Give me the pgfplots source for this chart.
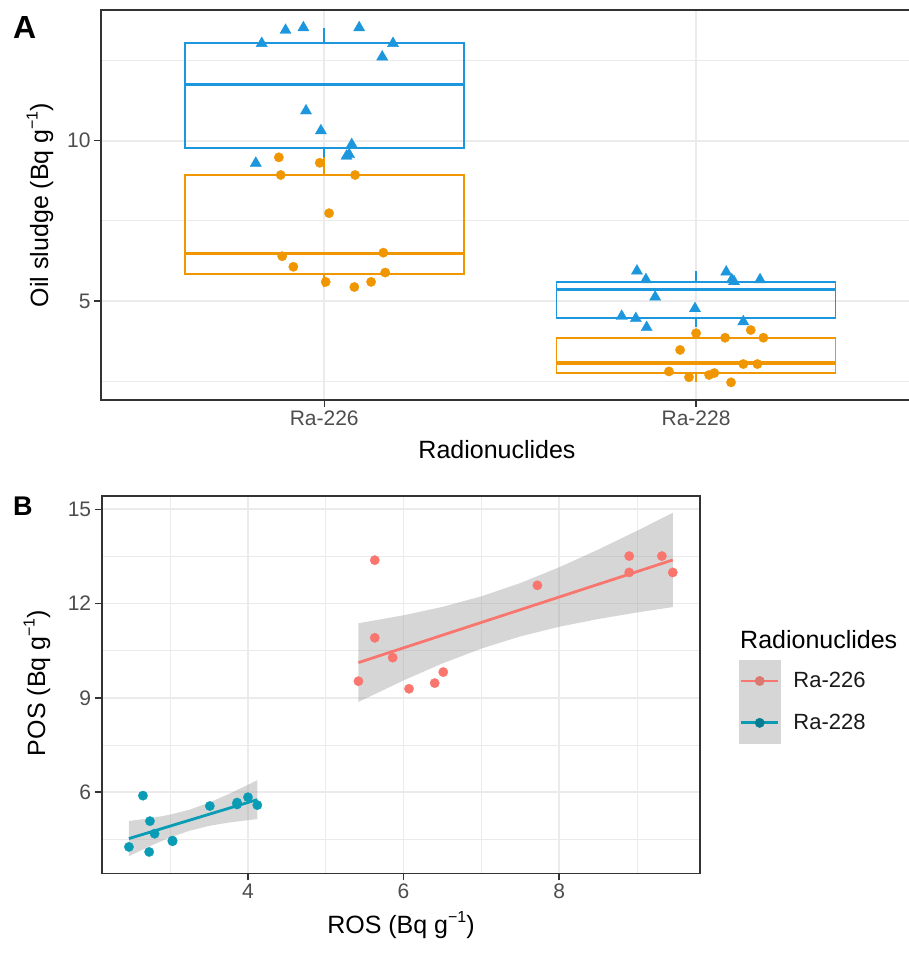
\documentclass[border=0pt]{standalone}
\usepackage{fontspec}
\setmainfont{Liberation Sans}
\usepackage{pgfplots}
\pgfplotsset{compat=1.18}
\definecolor{cblue}{HTML}{1C96DC}
\definecolor{corange}{HTML}{F09600}
\definecolor{cred}{HTML}{F8766D}
\definecolor{cteal}{HTML}{0A9BB5}
\definecolor{gridc}{HTML}{EBEBEB}
\definecolor{tickc}{HTML}{4D4D4D}
\definecolor{framec}{HTML}{333333}
\definecolor{bandc}{HTML}{999999}
\definecolor{keyc}{HTML}{D6D6D6}
\newcommand{\inv}{\raisebox{0.42em}{\fontsize{16}{16}\selectfont −1}}
\pgfplotsset{
 ggbase/.style={
  scale only axis,
  axis line style={draw=framec, line width=1.6pt},
  tick align=outside, tick pos=left,
  major tick length=7pt, minor tick length=0pt,
  tick style={draw=framec, line width=1.4pt},
  grid=both,
  major grid style={draw=gridc, line width=1.8pt},
  minor grid style={draw=gridc, line width=0.9pt},
  ticklabel style={font=\fontsize{21}{21}\selectfont, text=tickc},
  /pgf/number format/assume math mode=true,
 },
 boxln/.style={draw=#1, line width=1.7pt, forget plot},
 medln/.style={draw=#1, line width=3.2pt, forget plot},
}
\begin{document}
\begin{tikzpicture}
\path[use as bounding box] (0pt,0pt) rectangle (909pt,-954pt);
% ---------------- Panel A ----------------
\begin{axis}[ggbase, at={(101.1pt,-400pt)}, anchor=south west,
  width=818.1pt, height=390pt,
  xmin=0.4, xmax=2.6, ymin=1.92, ymax=14.07,
  xtick={1,2}, xticklabels={Ra-226,Ra-228},
  ytick={5,10}, minor ytick={2.5,7.5,12.5},
]
% Ra-226 POS box (blue)
\addplot[boxln=cblue] coordinates {(0.625,9.77) (1.375,9.77) (1.375,13.05) (0.625,13.05)} -- cycle;
\addplot[medln=cblue] coordinates {(0.625,11.76) (1.375,11.76)};
\addplot[boxln=cblue] coordinates {(1,13.05) (1,13.52)};
\addplot[boxln=cblue] coordinates {(1,9.77) (1,9.30)};
% Ra-226 ROS box (orange)
\addplot[boxln=corange] coordinates {(0.625,5.84) (1.375,5.84) (1.375,8.93) (0.625,8.93)} -- cycle;
\addplot[medln=corange] coordinates {(0.625,6.48) (1.375,6.48)};
\addplot[boxln=corange] coordinates {(1,8.93) (1,9.48)};
\addplot[boxln=corange] coordinates {(1,5.84) (1,5.44)};
% Ra-228 POS box (blue)
\addplot[boxln=cblue] coordinates {(1.625,4.48) (2.375,4.48) (2.375,5.60) (1.625,5.60)} -- cycle;
\addplot[medln=cblue] coordinates {(1.625,5.36) (2.375,5.36)};
\addplot[boxln=cblue] coordinates {(2,5.60) (2,5.94)};
\addplot[boxln=cblue] coordinates {(2,4.48) (2,4.18)};
% Ra-228 ROS box (orange)
\addplot[boxln=corange] coordinates {(1.625,2.76) (2.375,2.76) (2.375,3.86) (1.625,3.86)} -- cycle;
\addplot[medln=corange] coordinates {(1.625,3.07) (2.375,3.07)};
\addplot[boxln=corange] coordinates {(2,3.86) (2,4.10)};
\addplot[boxln=corange] coordinates {(2,2.76) (2,2.47)};
% Ra-226 POS (blue triangles)
\addplot[only marks, mark=triangle*, mark size=6.5pt, color=cblue, line width=0.3pt, forget plot] coordinates {
(0.832,13.03) (0.896,13.44) (0.944,13.52) (1.094,13.52) (1.185,13.03) (1.156,12.61)
(0.951,10.93) (0.991,10.31) (1.074,9.88) (1.067,9.57) (1.060,9.52) (0.816,9.30)};
% Ra-226 ROS (orange circles)
\addplot[only marks, mark=*, mark size=4.7pt, color=corange, line width=0.3pt, forget plot] coordinates {
(0.878,9.48) (0.988,9.31) (0.883,8.93) (1.083,8.93) (1.013,7.74) (1.159,6.51)
(0.887,6.40) (0.917,6.07) (1.164,5.89) (1.004,5.60) (1.126,5.60) (1.081,5.44)};
% Ra-228 POS
\addplot[only marks, mark=triangle*, mark size=6.5pt, color=cblue, line width=0.3pt, forget plot] coordinates {
(1.841,5.94) (1.865,5.67) (2.081,5.91) (2.096,5.67) (2.102,5.61) (2.172,5.67)
(1.890,5.13) (1.997,4.77) (1.800,4.53) (1.838,4.46) (1.867,4.18) (2.127,4.36)};
% Ra-228 ROS
\addplot[only marks, mark=*, mark size=4.7pt, color=corange, line width=0.3pt, forget plot] coordinates {
(2.000,4.00) (2.078,3.86) (2.147,4.10) (2.181,3.86) (1.957,3.48) (2.127,3.04)
(2.165,3.04) (1.927,2.81) (1.981,2.63) (2.035,2.70) (2.049,2.76) (2.094,2.47)};
\end{axis}
% ---------------- Panel B ----------------
\begin{axis}[ggbase, at={(101.7pt,-873.3pt)}, anchor=south west,
  width=598.3pt, height=377.6pt,
  xmin=2.12, xmax=9.81, ymin=3.42, ymax=15.43,
  xtick={4,6,8}, minor xtick={3,5,7,9},
  ytick={6,9,12,15}, minor ytick={4.5,7.5,10.5,13.5},
  legend style={draw=none, fill=none, inner sep=0pt, outer sep=0pt,
    column sep=13pt, row sep=0pt,
    nodes={inner sep=0pt, font=\fontsize{22}{22}\selectfont, text=black!90},
    cells={anchor=west},
    at={(axis description cs:1.0652,0.5649)}, anchor=north west},
  legend columns=1,
]
\addplot[only marks, mark=*, mark size=4.7pt, color=cred, line width=0.3pt, forget plot] coordinates {
(5.63,13.38) (5.63,10.91) (5.86,10.28) (5.42,9.53) (6.07,9.29) (6.40,9.47)
(6.51,9.82) (7.72,12.58) (8.90,13.51) (8.90,12.99) (9.32,13.51) (9.46,12.99)};
\addplot[only marks, mark=*, mark size=4.7pt, color=cteal, line width=0.3pt, forget plot] coordinates {
(2.65,5.89) (2.74,5.08) (2.80,4.68) (2.47,4.26) (2.73,4.10) (3.03,4.44)
(3.03,4.46) (3.51,5.56) (3.86,5.61) (3.86,5.67) (4.00,5.84) (4.12,5.59)};
% Ra-226 confidence band and fit
\addplot[fill=bandc, fill opacity=0.4, draw=none, forget plot] coordinates {
(5.42,11.373) (6.0,11.627) (6.5,11.894) (7.0,12.230) (7.5,12.651) (8.0,13.153) (8.5,13.715) (9.0,14.314) (9.46,14.887)
(9.46,11.887) (9.0,11.716) (8.5,11.507) (8.0,11.261) (7.5,10.955) (7.0,10.568) (6.5,10.096) (6.0,9.555) (5.42,8.871)} -- cycle;
\addplot[draw=cred, line width=2.8pt, forget plot] coordinates {(5.42,10.122) (9.46,13.387)};
% Ra-228 confidence band and fit
\addplot[fill=bandc, fill opacity=0.4, draw=none, forget plot] coordinates {
(2.47,5.085) (2.75,5.174) (3.0,5.286) (3.25,5.446) (3.5,5.669) (3.75,5.938) (4.0,6.235) (4.12,6.383)
(4.12,5.143) (4.0,5.111) (3.75,5.033) (3.5,4.928) (3.25,4.774) (3.0,4.561) (2.75,4.296) (2.47,3.965)} -- cycle;
\addplot[draw=cteal, line width=2.8pt, forget plot] coordinates {(2.47,4.525) (4.12,5.763)};
% legend
\addlegendimage{legend image code/.code={
  \fill[keyc] (0pt,-20.75pt) rectangle (41pt,20.75pt);
  \draw[cred, line width=2.8pt] (2pt,0pt) -- (39pt,0pt);
  \fill[cred!75!gray] (20.5pt,0pt) circle (4.7pt);
}}
\addlegendentry{Ra-226}
\addlegendimage{legend image code/.code={
  \fill[keyc] (0pt,-20.75pt) rectangle (41pt,20.75pt);
  \draw[cteal, line width=2.8pt] (2pt,0pt) -- (39pt,0pt);
  \fill[cteal!80!black] (20.5pt,0pt) circle (4.7pt);
}}
\addlegendentry{Ra-228}
\end{axis}
% ---------------- texts ----------------
\node[anchor=base west, inner sep=0pt, font=\fontsize{32}{32}\selectfont\bfseries] at (13pt,-38pt) {A};
\node[anchor=base west, inner sep=0pt, font=\fontsize{27}{27}\selectfont\bfseries] at (13pt,-515pt) {B};
\node[rotate=90, anchor=center, inner sep=0pt, font=\fontsize{25}{25}\selectfont] at (40pt,-205pt) {Oil sludge (Bq g\inv)};
\node[anchor=center, inner sep=0pt, font=\fontsize{25}{25}\selectfont] at (497pt,-450pt) {Radionuclides};
\node[rotate=90, anchor=center, inner sep=0pt, font=\fontsize{25}{25}\selectfont] at (37pt,-683pt) {POS (Bq g\inv)};
\node[anchor=center, inner sep=0pt, font=\fontsize{25}{25}\selectfont] at (401pt,-925pt) {ROS (Bq g\inv)};
\node[anchor=base west, inner sep=0pt, font=\fontsize{25}{25}\selectfont] at (740pt,-648pt) {Radionuclides};
\end{tikzpicture}
\end{document}
